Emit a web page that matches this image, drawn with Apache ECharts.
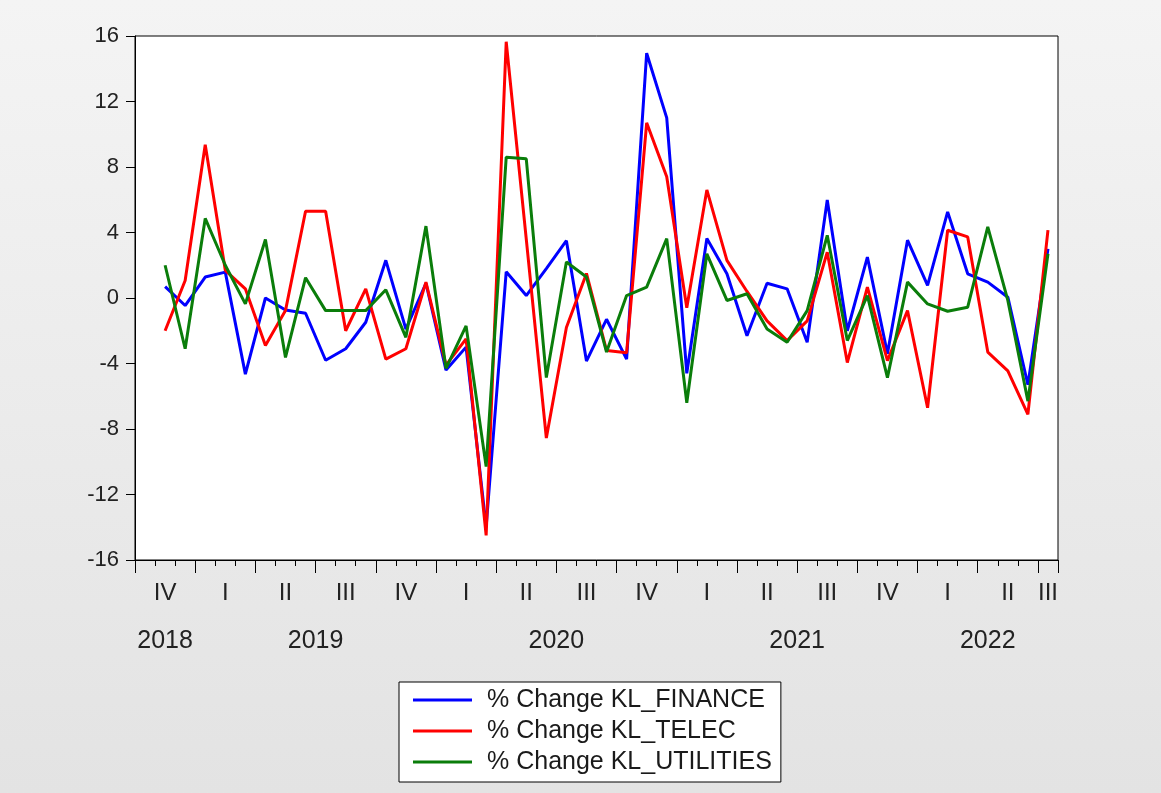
<!DOCTYPE html>
<html><head><meta charset="utf-8">
<script src="https://cdn.jsdelivr.net/npm/echarts@6/dist/echarts.min.js"></script>
<style>html,body{margin:0;padding:0;background:#ececec}#c{width:1161px;height:793px}</style>
</head><body><div id="c"></div>
<script>
const months = [
 '2018-10','2018-11','2018-12',
 '2019-01','2019-02','2019-03','2019-04','2019-05','2019-06','2019-07','2019-08','2019-09','2019-10','2019-11','2019-12',
 '2020-01','2020-02','2020-03','2020-04','2020-05','2020-06','2020-07','2020-08','2020-09','2020-10','2020-11','2020-12',
 '2021-01','2021-02','2021-03','2021-04','2021-05','2021-06','2021-07','2021-08','2021-09','2021-10','2021-11','2021-12',
 '2022-01','2022-02','2022-03','2022-04','2022-05','2022-06','2022-07'];
const finance = [null, 0.7, -0.46, 1.28, 1.58, -4.65, 0.0, -0.73, -0.93, -3.8, -3.1, -1.48, 2.3, -1.9, 0.9,
 -4.4, -3.0, -14.0, 1.6, 0.15, 1.8, 3.5, -3.85, -1.3, -3.73, 14.95, 11.0,
 -4.6, 3.63, 1.48, -2.3, 0.9, 0.56, -2.7, 5.98, -2.0, 2.5, -3.4, 3.53,
 0.77, 5.26, 1.48, 0.97, 0.05, -5.3, 3.0];
const telec = [null, -2.0, 1.07, 9.36, 1.69, 0.56, -2.9, -0.77, 5.3, 5.3, -2.0, 0.56, -3.73, -3.1, 0.97,
 -4.1, -2.5, -14.5, 15.65, 3.6, -8.55, -1.8, 1.5, -3.2, -3.35, 10.7, 7.4,
 -0.6, 6.6, 2.3, 0.4, -1.4, -2.6, -1.4, 2.8, -3.94, 0.66, -3.83, -0.77,
 -6.7, 4.14, 3.73, -3.3, -4.45, -7.1, 4.14];
const utilities = [null, 2.0, -3.1, 4.86, 2.0, -0.36, 3.57, -3.63, 1.24, -0.77, -0.77, -0.77, 0.5, -2.4, 4.39,
 -4.3, -1.7, -10.3, 8.6, 8.5, -4.86, 2.2, 1.28, -3.3, 0.15, 0.66, 3.63,
 -6.4, 2.7, -0.15, 0.26, -1.9, -2.7, -0.77, 3.83, -2.6, 0.15, -4.86, 0.97,
 -0.36, -0.81, -0.56, 4.34, -0.15, -6.3, 2.7];
const seriesNames = ['% Change KL_FINANCE', '% Change KL_TELEC', '% Change KL_UTILITIES'];
const quarterNames = ['I', 'II', 'III', 'IV'];
const yTicks = {min: -16, max: 16, step: 4};

// derive quarter label positions and year label positions from the month list
const yearOf = s => +s.slice(0, 4);
const monthOf = s => +s.slice(5, 7);
const qKey = s => yearOf(s) + 'Q' + Math.ceil(monthOf(s) / 3);
const quarterGroups = {};
months.forEach((m, i) => { (quarterGroups[qKey(m)] = quarterGroups[qKey(m)] || []).push(i); });
const quarterLabelIdx = new Set(Object.values(quarterGroups).map(a => a[Math.floor((a.length - 1) / 2)]));
const yearGroups = {};
months.forEach((m, i) => { (yearGroups[yearOf(m)] = yearGroups[yearOf(m)] || []).push(i); });
const yearCenter = {};
Object.keys(yearGroups).forEach(y => { const a = yearGroups[y]; yearCenter[(a[0] + a[a.length - 1] + 1) / 2] = y; });

const FONT = 'Liberation Sans, Arial, sans-serif';
const chart = echarts.init(document.getElementById('c'));
chart.setOption({
  animation: false,
  backgroundColor: {type: 'linear', x: 0, y: 0, x2: 0, y2: 1,
    colorStops: [{offset: 0, color: '#f4f4f4'}, {offset: 1, color: '#e3e3e3'}]},
  textStyle: {fontFamily: FONT},
  grid: {left: 135, right: 103, top: 36, bottom: 233, show: true, backgroundColor: '#ffffff',
    borderColor: '#000', borderWidth: 1},
  legend: {
    orient: 'vertical', left: 399, top: 682,
    data: seriesNames,
    icon: 'rect', itemWidth: 59, itemHeight: 3, itemGap: 3,
    padding: [4, 9, 6, 14],
    borderColor: '#000', borderWidth: 1, backgroundColor: '#ffffff',
    textStyle: {fontSize: 25, color: '#1a1a1a', fontFamily: FONT, lineHeight: 28, padding: [0, 0, 0, 10]}
  },
  xAxis: [
    {
      type: 'category', data: months, boundaryGap: true, position: 'bottom',
      axisLine: {show: true, onZero: false, lineStyle: {color: '#000', width: 1}},
      axisTick: {show: true, inside: false, interval: 0, length: 6, lineStyle: {color: '#000', width: 1}},
      axisLabel: {
        show: true,
        interval: (i) => quarterLabelIdx.has(i),
        formatter: (v) => quarterNames[Math.ceil(monthOf(v) / 3) - 1],
        fontSize: 24, color: '#222', margin: 21, fontFamily: FONT
      },
      splitLine: {show: false}
    },
    {
      type: 'category', data: months, boundaryGap: true, position: 'bottom',
      axisLine: {show: false, onZero: false},
      axisTick: {show: true, inside: false, interval: (i) => (monthOf(months[i]) - 1) % 3 === 0, length: 13,
        lineStyle: {color: '#000', width: 1}},
      axisLabel: {show: false},
      splitLine: {show: false}
    },
    {
      type: 'value', position: 'bottom', min: 0, max: months.length, interval: 0.5,
      axisLine: {show: false, onZero: false}, axisTick: {show: false}, splitLine: {show: false},
      axisLabel: {
        formatter: (v) => yearCenter[v] || '',
        fontSize: 25, color: '#222', margin: 69, fontFamily: FONT, showMinLabel: true, showMaxLabel: true
      }
    }
  ],
  yAxis: {
    type: 'value', min: yTicks.min, max: yTicks.max, interval: yTicks.step,
    axisLine: {show: true, lineStyle: {color: '#000', width: 1}},
    axisTick: {show: true, length: 9, lineStyle: {color: '#000'}},
    axisLabel: {fontSize: 22, color: '#222', margin: 16, fontFamily: FONT},
    splitLine: {show: false}
  },
  series: [
    {name: seriesNames[0], type: 'line', data: finance, symbol: 'none', color: '#0000ff',
      lineStyle: {width: 3, color: '#0000ff'}, xAxisIndex: 0},
    {name: seriesNames[1], type: 'line', data: telec, symbol: 'none', color: '#ff0000',
      lineStyle: {width: 3, color: '#ff0000'}, xAxisIndex: 0},
    {name: seriesNames[2], type: 'line', data: utilities, symbol: 'none', color: '#0a7d0a',
      lineStyle: {width: 3, color: '#0a7d0a'}, xAxisIndex: 0}
  ]
});
</script></body></html>
